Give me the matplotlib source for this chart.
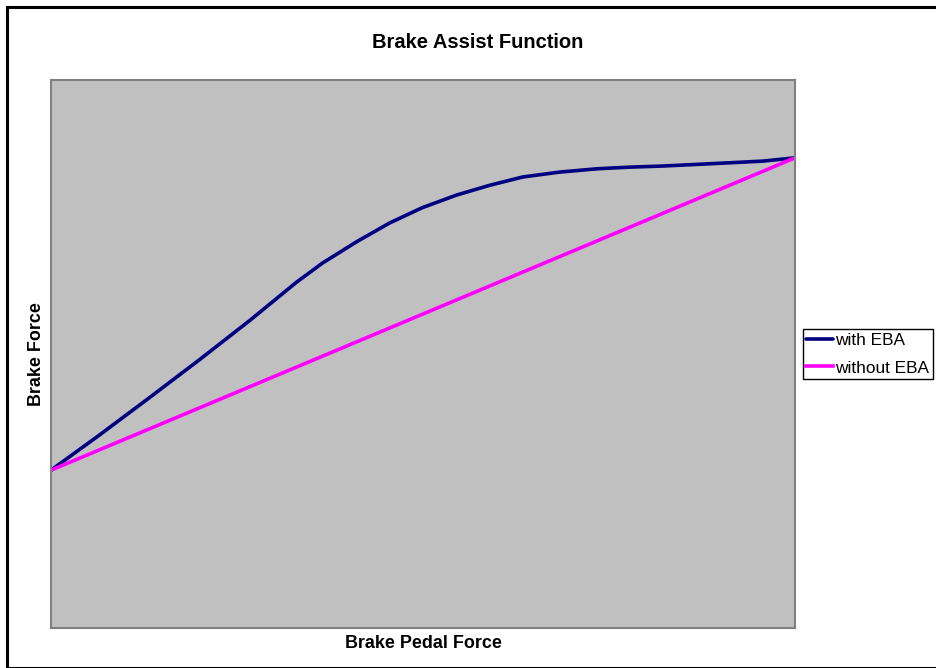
import matplotlib
matplotlib.use("Agg")
import matplotlib.pyplot as plt
from matplotlib.patches import Rectangle

plt.rcParams['font.family'] = ['Liberation Sans', 'DejaVu Sans']

# pedal force (relative, 0-100) and brake force (relative, 0-100)
pedal = [0, 6.5, 13.2, 19.9, 26.7, 33.0, 36.5, 41.1, 45.5, 49.9, 54.5, 59.0, 63.4,
         68.4, 73.4, 77.8, 82.2, 86.8, 91.3, 95.7, 100]
with_eba = [28.8, 35.2, 42.0, 48.9, 56.1, 63.1, 66.6, 70.5, 73.9, 76.7, 79.0, 80.8, 82.3,
            83.2, 83.8, 84.1, 84.3, 84.6, 84.9, 85.2, 85.8]
pedal_lin = [0, 100]
without_eba = [28.8, 85.8]

W, H = 936, 668
fig = plt.figure(figsize=(W / 100, H / 100), dpi=100)
fig.patch.set_facecolor('white')

# outer chart border
fig.add_artist(Rectangle((7.5 / W, 0), 1, 1 - 6.5 / H, transform=fig.transFigure,
                         fill=False, edgecolor='black', linewidth=2.2))

ax = fig.add_axes([51 / W, (H - 628) / H, (795 - 51) / W, (628 - 80) / H])
ax.set_facecolor('#C0C0C0')
ax.plot(pedal, with_eba, color='#000080', linewidth=2.6, label='with EBA',
        solid_joinstyle='round', solid_capstyle='round')
ax.plot(pedal_lin, without_eba, color='#FF00FF', linewidth=2.6, label='without EBA')
ax.set_xlim(0, 100)
ax.set_ylim(0, 100)
ax.set_xticks([])
ax.set_yticks([])
for sp in ax.spines.values():
    sp.set_color('#808080')
    sp.set_linewidth(1.5)

fig.text(478 / W, 1 - 42 / H, 'Brake Assist Function', ha='center', va='center',
         fontsize=14.5, fontweight='bold')
ax.set_xlabel('Brake Pedal Force', fontsize=12.9, fontweight='bold', labelpad=5)
ax.set_ylabel('Brake Force', fontsize=12.9, fontweight='bold', labelpad=4)

leg = fig.legend(loc='center left', bbox_to_anchor=(803 / W, 1 - 354 / H), fontsize=12.4,
                 frameon=True, fancybox=False, edgecolor='black', framealpha=1,
                 borderpad=0.2, handlelength=1.55, handletextpad=0.12, labelspacing=0.75,
                 borderaxespad=0)
leg.get_frame().set_linewidth(1.0)

fig.savefig('out.png', dpi=100)
